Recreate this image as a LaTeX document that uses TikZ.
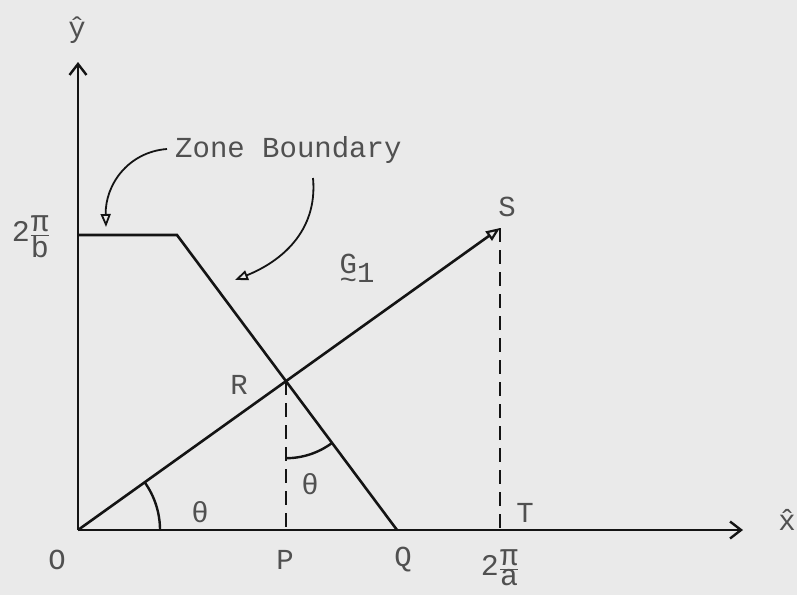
\documentclass[tikz,border=0pt]{standalone}
\usepackage{fontspec}
\setmainfont{Liberation Mono}
\usetikzlibrary{arrows.meta,angles}
\definecolor{paper}{RGB}{234,234,234}
\definecolor{ink}{RGB}{20,20,20}
\definecolor{txt}{RGB}{80,80,80}
\begin{document}
\begin{tikzpicture}[x=1pt,y=1pt,
  lbl/.style={text=txt,font=\fontsize{29}{31}\selectfont,inner sep=0pt},
  axisline/.style={draw=ink,line width=2.6pt,-{Straight Barb[length=11pt,width=17pt,line width=2.4pt]}},
  boundary/.style={draw=ink,line width=2.6pt,line join=miter},
  vecline/.style={draw=ink,line width=2.6pt,-{Triangle[open,length=14pt,width=11pt,line width=2.2pt]}},
  dropline/.style={draw=ink,line width=2.2pt,dash pattern=on 14pt off 8pt},
  anglearc/.style={draw=ink,line width=2.4pt},
  pointer/.style={draw=ink,line width=1.8pt,-{Triangle[open,length=13pt,width=10pt,line width=1.8pt]}}]
\fill[paper] (0,0) rectangle (797,-595);
\useasboundingbox (0,0) rectangle (797,-595);
% key points
\coordinate (O) at (78,-530);
\coordinate (Ytop) at (78,-62);
\coordinate (Xend) at (743,-530);
\coordinate (B1) at (78,-235);
\coordinate (B2) at (177,-235);
\coordinate (Q) at (397,-530);
\coordinate (S) at (500,-228);
\coordinate (T) at (500,-530);
\coordinate (R) at (intersection of O--S and B2--Q);
\coordinate (P) at (R |- O);
% axes
\draw[axisline] (O) -- (Ytop);
\draw[axisline] (O) -- (Xend);
% zone boundary
\draw[boundary] (B1) -- (B2) -- (Q);
% vector G1
\draw[vecline] (O) -- (S);
% dashed drops
\draw[dropline] (R) -- (P);
\draw[dropline] (S) -- (T);
% angles
\pic[anglearc, angle radius=82pt] {angle = Q--O--S};
\pic[anglearc, angle radius=77pt] {angle = P--R--Q};
% pointers from the label
\coordinate (za) at (167,-149);
\coordinate (zb) at (313,-178);
\coordinate (ta) at (106,-227);
\coordinate (tb) at (235,-280);
\draw[pointer] (za) .. controls (128,-152) and (105,-185) .. (ta);
\draw[pointer] (zb) .. controls (318,-232) and (280,-262) .. (tb);
% labels
\node[lbl,anchor=west] (zone) at (175,-150) {Zone Boundary};
\node[lbl] (yhat) at (77,-30) {\^{y}};
\node[lbl] (xhat) at (787,-520) {\^{x}};
\node[lbl] (lO) at (57,-560) {O};
\node[lbl] (lP) at (285,-560) {P};
\node[lbl] (lQ) at (403,-560) {Q};
\node[lbl] (lR) at (239,-385) {R};
\node[lbl] (lS) at (507,-207) {S};
\node[lbl] (lT) at (525,-513) {T};
\node[lbl] (th1) at (200,-512) {θ};
\node[lbl] (th2) at (310,-484) {θ};
\node[lbl] (G1) at (357,-272) {\oalign{G\crcr\hidewidth\raisebox{-1pt}{\textasciitilde}\hidewidth}\raisebox{-9pt}{1}};
\node[lbl,font=\fontsize{30}{32}\selectfont] (yb) at (31,-237) {\mbox{2}$\frac{\mbox{π}}{\mbox{b}}$};
\node[lbl,font=\fontsize{30}{32}\selectfont] (xa) at (500,-568) {\mbox{2}$\frac{\mbox{π}}{\mbox{a}}$};
\end{tikzpicture}
\end{document}
